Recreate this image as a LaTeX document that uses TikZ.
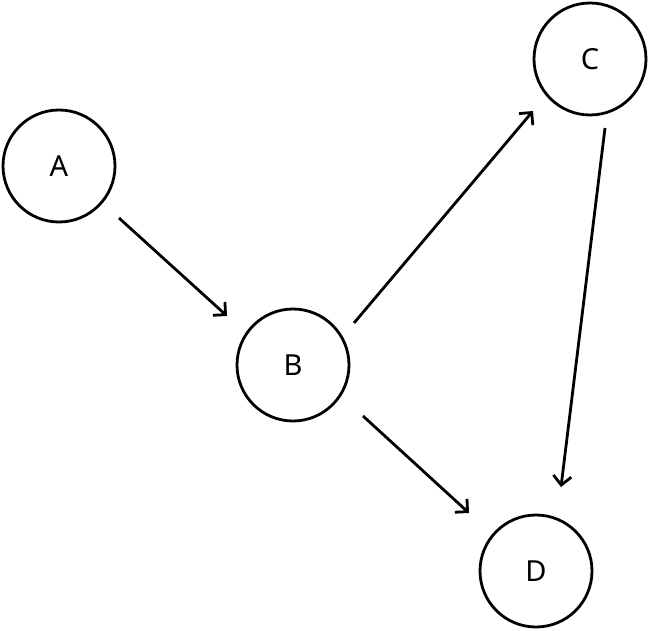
\documentclass[tikz,border=0pt]{standalone}
\usepackage{fontspec}
\setmainfont{Noto Sans}
\usetikzlibrary{calc,arrows.meta}
\begin{document}
\begin{tikzpicture}[x=1pt,y=-1pt,
  vtx/.style={circle,draw,line width=2.8pt,minimum size=112pt,inner sep=0pt,font=\fontsize{29}{32}\selectfont},
  arr/.style={line width=2.8pt,-{Straight Barb[length=9pt,width=18pt,line width=2.8pt]}}]
\useasboundingbox (0,0) rectangle (650,631);
\node[vtx] (A) at (59,166) {A};
\node[vtx] (B) at (293,365) {B};
\node[vtx] (C) at (590,59) {C};
\node[vtx] (D) at (536,571) {D};
\draw[arr] ($(A)+(60,52)$) -- ($(B)+(-66,-49)$);
\draw[arr] ($(B)+(61,-42)$) -- ($(C)+(-57,52)$);
\draw[arr] ($(C)+(15,69)$) -- ($(D)+(25,-84)$);
\draw[arr] ($(B)+(70,51)$) -- ($(D)+(-67,-58)$);
\end{tikzpicture}
\end{document}
